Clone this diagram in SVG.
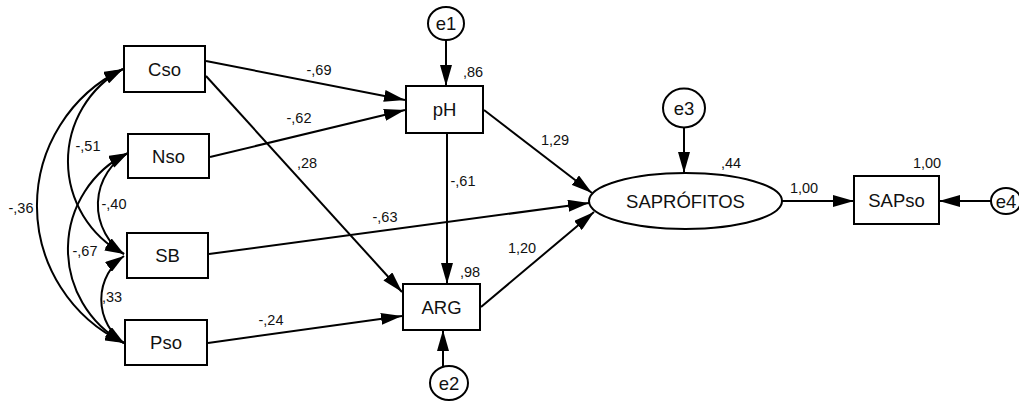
<svg xmlns="http://www.w3.org/2000/svg" width="1019" height="401" viewBox="0 0 1019 401">
  <defs>
    <marker id="head" markerUnits="userSpaceOnUse" markerWidth="21" markerHeight="12" refX="21" refY="6" orient="auto-start-reverse">
      <path d="M0,0 L21,6 L0,12 z" fill="#000"/>
    </marker>
    <marker id="headSm" markerUnits="userSpaceOnUse" markerWidth="19" markerHeight="12" refX="19" refY="6" orient="auto-start-reverse">
      <path d="M0,0 L19,6 L0,12 z" fill="#000"/>
    </marker>
    <style>
      .box { fill: #fff; stroke: #000; stroke-width: 2; }
      .lbl { font-family: "Liberation Sans", Arial, sans-serif; font-size: 18.5px; fill: #111; text-anchor: middle; }
      .num { font-family: "Liberation Sans", Arial, sans-serif; font-size: 14.5px; fill: #111; text-anchor: middle; }
      .edge { fill: none; stroke: #000; stroke-width: 2; marker-end: url(#head); }
      .cov { fill: none; stroke: #000; stroke-width: 2; marker-start: url(#headSm); marker-end: url(#headSm); }
    </style>
  </defs>
  <rect width="1019" height="401" fill="#fff"/>

  <!-- connectors -->
  <g id="connectors">
    <!-- covariances between exogenous variables -->
    <path class="cov" d="M123,69 A151.7,151.7 0 0 0 124,343"/>
    <path class="cov" d="M123,69 A104.8,104.8 0 0 0 124,254"/>
    <path class="cov" d="M128,153 A106.8,106.8 0 0 0 124,343"/>
    <path class="cov" d="M128,153 A59.5,59.5 0 0 0 124,254"/>
    <path class="cov" d="M124,256 A53,53 0 0 0 124,343"/>
    <!-- regression paths -->
    <line class="edge" x1="206" y1="61" x2="405" y2="100"/>
    <line class="edge" x1="210" y1="157" x2="405" y2="110"/>
    <line class="edge" x1="206" y1="76" x2="402" y2="292"/>
    <line class="edge" x1="209" y1="254" x2="589" y2="203"/>
    <line class="edge" x1="208" y1="343" x2="402" y2="316"/>
    <line class="edge" x1="484" y1="110" x2="592" y2="193"/>
    <line class="edge" x1="447" y1="134" x2="447" y2="284"/>
    <line class="edge" x1="481" y1="307" x2="594" y2="212"/>
    <line class="edge" x1="782" y1="201" x2="854" y2="201"/>
    <!-- error terms -->
    <line class="edge" x1="446" y1="40" x2="446" y2="86"/>
    <line class="edge" x1="443" y1="366" x2="443" y2="330"/>
    <line class="edge" x1="684" y1="128" x2="684" y2="173"/>
    <line class="edge" x1="991" y1="201" x2="939" y2="201"/>
  </g>

  <!-- path and covariance coefficients -->
  <g id="coefficients">
    <text class="num" x="319" y="75">-,69</text>
    <text class="num" x="299" y="123">-,62</text>
    <text class="num" x="307" y="168">,28</text>
    <text class="num" x="473" y="77">,86</text>
    <text class="num" x="463" y="186">-,61</text>
    <text class="num" x="555" y="145">1,29</text>
    <text class="num" x="731" y="168">,44</text>
    <text class="num" x="804" y="193">1,00</text>
    <text class="num" x="927" y="168">1,00</text>
    <text class="num" x="385" y="222">-,63</text>
    <text class="num" x="522" y="253">1,20</text>
    <text class="num" x="470" y="277">,98</text>
    <text class="num" x="271" y="325">-,24</text>
    <text class="num" x="88" y="151">-,51</text>
    <text class="num" x="114" y="209">-,40</text>
    <text class="num" x="21" y="213">-,36</text>
    <text class="num" x="85" y="256">-,67</text>
    <text class="num" x="112" y="302">,33</text>
  </g>

  <!-- observed variables -->
  <g id="Cso"><rect class="box" x="124" y="46" width="81" height="46"/><text class="lbl" x="164.5" y="75.5">Cso</text></g>
  <g id="Nso"><rect class="box" x="128" y="134" width="81" height="44"/><text class="lbl" x="168.5" y="162.5">Nso</text></g>
  <g id="SB"><rect class="box" x="127" y="233" width="81" height="45"/><text class="lbl" x="167.5" y="262">SB</text></g>
  <g id="Pso"><rect class="box" x="125" y="320" width="82" height="45"/><text class="lbl" x="166" y="349">Pso</text></g>
  <g id="pH"><rect class="box" x="406" y="86" width="77" height="47"/><text class="lbl" x="444.5" y="116">pH</text></g>
  <g id="ARG"><rect class="box" x="403" y="284" width="77" height="46"/><text class="lbl" x="441.5" y="313.5">ARG</text></g>
  <g id="SAPso"><rect class="box" x="854" y="176" width="85" height="48"/><text class="lbl" x="896.5" y="206.5">SAPso</text></g>

  <!-- latent variable -->
  <g id="SAPROFITOS"><ellipse class="box" cx="685.5" cy="201" rx="96.5" ry="28"/><text class="lbl" x="685.5" y="207.5">SAPRÓFITOS</text></g>

  <!-- residuals -->
  <g id="e1"><ellipse class="box" cx="446" cy="23.5" rx="18" ry="16.5"/><text class="lbl" x="446" y="30">e1</text></g>
  <g id="e2"><ellipse class="box" cx="449" cy="383" rx="19" ry="17"/><text class="lbl" x="449" y="389.5">e2</text></g>
  <g id="e3"><ellipse class="box" cx="684" cy="108" rx="21" ry="19.5"/><text class="lbl" x="684" y="114.5">e3</text></g>
  <g id="e4"><ellipse class="box" cx="1006" cy="201" rx="15" ry="13"/><text class="lbl" x="1006" y="207.5">e4</text></g>
</svg>
